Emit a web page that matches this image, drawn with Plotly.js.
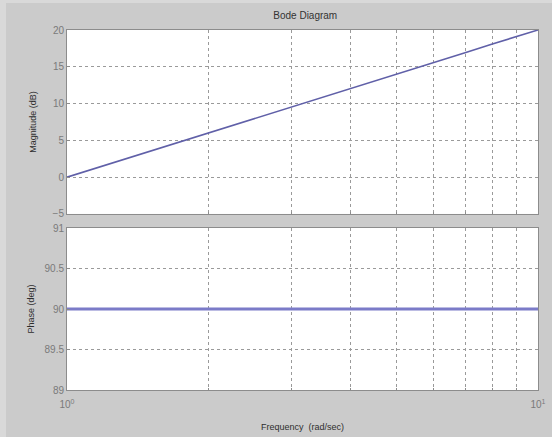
<!DOCTYPE html>
<html>
<head>
<meta charset="utf-8">
<script src="https://cdn.plot.ly/plotly-3.0.1.min.js"></script>
<style>
  html, body { margin: 0; padding: 0; background: #cbcbcb; }
  #chart { width: 552px; height: 437px; }
</style>
</head>
<body>
<div id="chart"></div>
<script>
// Frequency response of a pure differentiator, sampled at each grid frequency
const frequency = [1, 2, 3, 4, 5, 6, 7, 8, 9, 10];          // rad/sec
const magnitudeDb = [0, 6.0, 9.5, 12.0, 14.0, 15.6, 16.9, 18.1, 19.1, 20];
const phaseDeg = [90, 90, 90, 90, 90, 90, 90, 90, 90, 90];

const decadeTicks = [1, 10];
const decadeLabels = ['10<sup>0</sup>', '10<sup>1</sup>'];
const minorFreqs = [2, 3, 4, 5, 6, 7, 8, 9];
const magTicks = [-5, 0, 5, 10, 15, 20];
const phaseTicks = [89, 89.5, 90, 90.5, 91];

const sans = 'Arial, Liberation Sans, sans-serif';
const tickFont = { family: sans, size: 10, color: '#7a7a7a' };
const labelFont = { family: sans, size: 9, color: '#2e2e2e' };
const gridStyle = { showgrid: true, gridcolor: '#9a9a9a', griddash: 'dot', gridwidth: 1 };
const frame = { showline: true, linecolor: '#8c8c8c', linewidth: 1, mirror: true, zeroline: false,
                ticks: 'inside', ticklen: 3, tickcolor: '#8c8c8c' };

const traces = [
  { x: frequency, y: magnitudeDb, xaxis: 'x', yaxis: 'y', type: 'scatter', mode: 'lines',
    line: { color: '#6060a8', width: 1.6 }, hoverinfo: 'x+y' },
  { x: frequency, y: phaseDeg, xaxis: 'x2', yaxis: 'y2', type: 'scatter', mode: 'lines',
    line: { color: '#7b7bc8', width: 3 }, hoverinfo: 'x+y' }
];

const xCommon = Object.assign({ type: 'log', range: [0, 1], tickmode: 'array',
  tickvals: decadeTicks, ticktext: decadeLabels, tickfont: tickFont,
  minor: { tickmode: 'array', tickvals: minorFreqs, showgrid: true, gridcolor: '#9a9a9a',
           griddash: 'dot', gridwidth: 1, ticks: 'inside', ticklen: 2, tickcolor: '#8c8c8c' } },
  gridStyle, frame);

const layout = {
  width: 552, height: 437,
  paper_bgcolor: '#cbcbcb', plot_bgcolor: '#ffffff',
  margin: { l: 67, r: 14, t: 30, b: 47 },
  showlegend: false,
  title: { text: 'Bode Diagram', x: 0.553, xanchor: 'center', y: 0.965, yanchor: 'middle',
           font: { family: sans, size: 10, color: '#333333' } },
  xaxis: Object.assign({}, xCommon, { anchor: 'y', showticklabels: false }),
  xaxis2: Object.assign({}, xCommon, { anchor: 'y2', matches: 'x', ticklabelstandoff: 5,
    title: { text: 'Frequency  (rad/sec)', standoff: 14, font: labelFont } }),
  yaxis: Object.assign({ domain: [0.489, 1], range: [-5, 20], tickmode: 'array', tickvals: magTicks,
    tickfont: tickFont, title: { text: 'Magnitude (dB)', standoff: 14, font: labelFont } },
    gridStyle, frame),
  yaxis2: Object.assign({ domain: [0, 0.45], range: [89, 91], tickmode: 'array', tickvals: phaseTicks,
    tickfont: tickFont, title: { text: 'Phase (deg)', standoff: 8, font: labelFont } },
    gridStyle, frame),
  shapes: [
    // lighter window edge along the left and top of the figure
    { type: 'rect', xref: 'paper', yref: 'paper', layer: 'below',
      x0: -67 / 471, x1: -61 / 471, y0: -47 / 360, y1: 1 + 30 / 360,
      fillcolor: '#d9d9d9', line: { width: 0 } },
    { type: 'rect', xref: 'paper', yref: 'paper', layer: 'below',
      x0: -67 / 471, x1: 1 + 14 / 471, y0: 1 + 27 / 360, y1: 1 + 30 / 360,
      fillcolor: '#d9d9d9', line: { width: 0 } }
  ]
};

Plotly.newPlot('chart', traces, layout, { displayModeBar: false, staticPlot: true });
</script>
</body>
</html>
